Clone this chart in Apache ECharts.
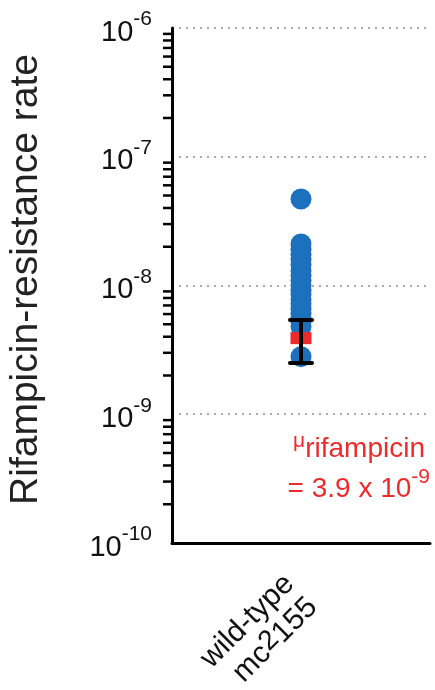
<!DOCTYPE html>
<html>
<head>
<meta charset="utf-8">
<script src="https://cdn.jsdelivr.net/npm/echarts@6/dist/echarts.min.js"></script>
<style>
  html, body { margin: 0; padding: 0; background: #fff; }
  #chart { width: 435px; height: 690px; }
</style>
</head>
<body>
<div id="chart"></div>
<script>
// rifampicin-resistance rate, one strain
var categories = ['wild-type'];
var rates = [4.7e-8, 2.1e-8, 1.9e-8, 1.75e-8, 1.6e-8, 1.45e-8, 1.3e-8, 1.2e-8,
             1.1e-8, 1.0e-8, 9.2e-9, 8.5e-9, 7.8e-9, 7.2e-9, 6.6e-9, 6.1e-9,
             5.6e-9, 5.2e-9, 4.8e-9, 2.8e-9];
var meanRate = 3.9e-9;
var errLow = 2.5e-9;
var errHigh = 5.4e-9;
var decades = [-10, -9, -8, -7];
var minorSteps = [2, 3, 4, 5, 6, 7, 8, 9];

var FONT = '"Liberation Sans", Arial, Helvetica, sans-serif';
var RED = '#ee2a2a';

var dotData = rates.map(function (v) { return [0, v]; });
var minorData = [];
decades.forEach(function (d) {
    minorSteps.forEach(function (m) { minorData.push([0, m * Math.pow(10, d)]); });
});

var chart = echarts.init(document.getElementById('chart'));

var option = {
    animation: false,
    grid: { left: 172, right: 5, top: 28, bottom: 147, outerBoundsMode: 'none', containLabel: false },
    xAxis: {
        type: 'category',
        data: categories,
        axisLine: { lineStyle: { color: '#000', width: 3 } },
        axisTick: { length: 14, lineStyle: { color: '#000', width: 3 }, alignWithLabel: true },
        axisLabel: {
            rotate: 45,
            margin: 48,
            fontFamily: FONT,
            formatter: function () {
                return '{n|wild-type}\n{n|mc}{s|2}{n|155}';
            },
            rich: {
                n: { fontSize: 30, color: '#111', fontFamily: FONT, lineHeight: 33 },
                s: { fontSize: 28, color: '#111', fontFamily: FONT, lineHeight: 33, padding: [0, 0, 8, 0] }
            }
        }
    },
    yAxis: {
        type: 'log',
        logBase: 10,
        min: 1e-10,
        max: 1e-6,
        interval: 1,
        name: 'Rifampicin-resistance rate',
        nameLocation: 'middle',
        nameGap: 126,
        nameTextStyle: { fontSize: 39, color: '#222', fontFamily: FONT, padding: [0, 0, 0, 12] },
        axisLine: { show: true, lineStyle: { color: '#000', width: 3 } },
        axisTick: { length: 14, lineStyle: { color: '#000', width: 3 } },
        splitLine: { show: true, lineStyle: { color: '#aaa', type: [2, 5], width: 2 } },
        axisLabel: {
            margin: 20,
            formatter: function (v) {
                return '{b|10}{s|' + Math.round(Math.log10(v)) + '}';
            },
            rich: {
                b: { fontSize: 29, color: '#111', fontFamily: FONT, padding: [9, 0, 0, 0] },
                s: { fontSize: 21, color: '#111', fontFamily: FONT, padding: [0, 0, 17, 0] }
            }
        }
    },
    series: [
        {
            // minor log ticks 2..9 per decade
            type: 'custom',
            silent: true,
            clip: false,
            z: 5,
            data: minorData,
            renderItem: function (params, api) {
                var pt = api.coord([0, api.value(1)]);
                var x0 = params.coordSys.x;
                return {
                    type: 'line',
                    shape: { x1: x0 - 9, y1: pt[1], x2: x0, y2: pt[1] },
                    style: { stroke: '#000', lineWidth: 2.5 }
                };
            }
        },
        {
            type: 'scatter',
            data: dotData,
            symbol: 'circle',
            symbolSize: 21,
            itemStyle: { color: '#1b71bd', opacity: 1 },
            z: 2
        },
        {
            type: 'scatter',
            data: [[0, meanRate]],
            symbol: 'rect',
            symbolSize: [21, 12],
            itemStyle: { color: RED, opacity: 1 },
            z: 3
        },
        {
            // error bar
            type: 'custom',
            z: 4,
            data: [[0, errLow, errHigh]],
            renderItem: function (params, api) {
                var lo = api.coord([api.value(0), api.value(1)]);
                var hi = api.coord([api.value(0), api.value(2)]);
                var hw = 11;
                var st = { stroke: '#000', lineWidth: 4, lineCap: 'round' };
                return {
                    type: 'group',
                    children: [
                        { type: 'line', shape: { x1: lo[0], y1: lo[1], x2: hi[0], y2: hi[1] }, style: st },
                        { type: 'line', shape: { x1: lo[0] - hw, y1: lo[1], x2: lo[0] + hw, y2: lo[1] }, style: st },
                        { type: 'line', shape: { x1: hi[0] - hw, y1: hi[1], x2: hi[0] + hw, y2: hi[1] }, style: st }
                    ]
                };
            }
        }
    ],
    graphic: [
        {
            type: 'text',
            right: 10,
            top: 431,
            style: {
                text: '{m|\u03bc}{r|rifampicin}',
                align: 'right',
                rich: {
                    m: { fontSize: 21, fill: RED, fontFamily: FONT, padding: [0, 0, 16, 0] },
                    r: { fontSize: 28, fill: RED, fontFamily: FONT }
                }
            }
        },
        {
            type: 'text',
            right: 5,
            top: 467,
            style: {
                text: '{r|= ' + (meanRate / 1e-9).toFixed(1) + ' x 10}{s|-9}',
                align: 'right',
                rich: {
                    r: { fontSize: 28, fill: RED, fontFamily: FONT, padding: [8, 0, 0, 0] },
                    s: { fontSize: 21, fill: RED, fontFamily: FONT, padding: [0, 0, 16, 0] }
                }
            }
        }
    ]
};

chart.setOption(option);
</script>
</body>
</html>
